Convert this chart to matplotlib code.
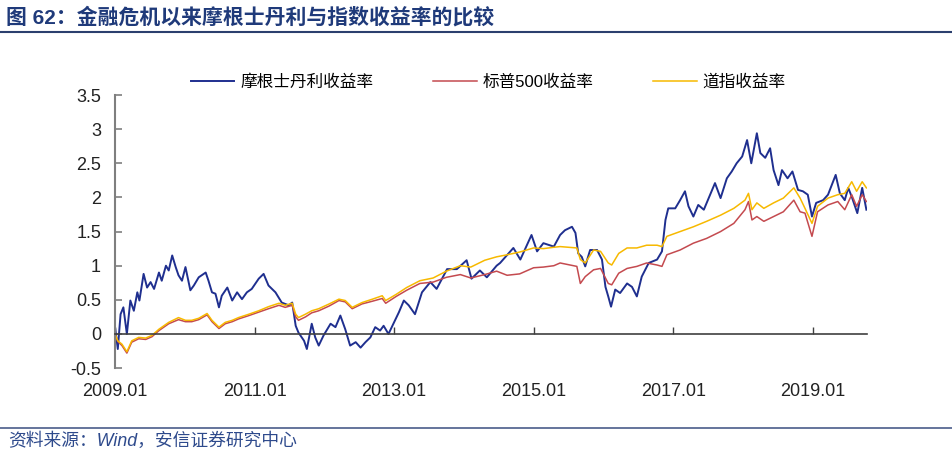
import matplotlib
matplotlib.use("Agg")
import matplotlib.pyplot as plt
from matplotlib.lines import Line2D

plt.rcParams['font.family'] = ['Liberation Sans', 'Noto Sans CJK SC', 'DejaVu Sans']

# Morgan Stanley cumulative return (decimal year, value)
ms_t = [2009.00, 2009.04, 2009.08, 2009.12, 2009.17, 2009.22, 2009.27, 2009.32, 2009.35, 2009.41,
        2009.46, 2009.51, 2009.56, 2009.63, 2009.67, 2009.73, 2009.77, 2009.82, 2009.87, 2009.91,
        2009.96, 2010.01, 2010.08, 2010.13, 2010.20, 2010.30, 2010.34, 2010.39, 2010.44, 2010.49,
        2010.53, 2010.61, 2010.68, 2010.75, 2010.82, 2010.89, 2010.96, 2011.06, 2011.13, 2011.20,
        2011.30, 2011.39, 2011.49, 2011.54, 2011.59, 2011.63, 2011.71, 2011.75, 2011.82, 2011.87,
        2011.92, 2011.99, 2012.09, 2012.16, 2012.23, 2012.30, 2012.37, 2012.45, 2012.52, 2012.59,
        2012.66, 2012.73, 2012.80, 2012.85, 2012.92, 2013.00, 2013.07, 2013.14, 2013.21, 2013.30,
        2013.40, 2013.52, 2013.61, 2013.76, 2013.90, 2014.04, 2014.11, 2014.23, 2014.33, 2014.47,
        2014.52, 2014.71, 2014.81, 2014.97, 2015.05, 2015.14, 2015.29, 2015.38, 2015.45, 2015.55,
        2015.60, 2015.64, 2015.69, 2015.74, 2015.81, 2015.91, 2015.98, 2016.03, 2016.07, 2016.11,
        2016.17, 2016.24, 2016.34, 2016.41, 2016.48, 2016.55, 2016.65, 2016.77, 2016.84, 2016.89,
        2016.93, 2017.03, 2017.10, 2017.17, 2017.22, 2017.29, 2017.36, 2017.44, 2017.51, 2017.60,
        2017.68, 2017.77, 2017.84, 2017.91, 2017.99, 2018.06, 2018.12, 2018.20, 2018.25, 2018.32,
        2018.39, 2018.44, 2018.51, 2018.56, 2018.64, 2018.71, 2018.79, 2018.86, 2018.93, 2018.99,
        2019.05, 2019.15, 2019.22, 2019.33, 2019.39, 2019.46, 2019.51, 2019.56, 2019.64, 2019.71,
        2019.77]
ms_v = [0.10, -0.22, 0.29, 0.39, 0.00, 0.49, 0.34, 0.61, 0.49, 0.88,
        0.68, 0.76, 0.66, 0.90, 0.78, 1.00, 0.93, 1.15, 0.98, 0.86,
        0.78, 0.98, 0.64, 0.71, 0.83, 0.90, 0.78, 0.61, 0.59, 0.39,
        0.56, 0.68, 0.49, 0.61, 0.51, 0.61, 0.66, 0.81, 0.88, 0.71,
        0.61, 0.46, 0.42, 0.46, 0.12, 0.02, -0.10, -0.22, 0.15, -0.05,
        -0.17, -0.02, 0.15, 0.10, 0.27, 0.07, -0.17, -0.12, -0.20, -0.12,
        -0.05, 0.10, 0.05, 0.12, 0.00, 0.17, 0.32, 0.49, 0.42, 0.29,
        0.61, 0.76, 0.66, 0.95, 0.95, 1.08, 0.81, 0.93, 0.83, 1.00,
        1.04, 1.26, 1.09, 1.45, 1.21, 1.33, 1.28, 1.45, 1.52, 1.57,
        1.48, 1.18, 1.13, 0.99, 1.23, 1.23, 1.09, 0.69, 0.55, 0.40,
        0.65, 0.60, 0.74, 0.69, 0.55, 0.84, 1.04, 1.09, 1.21, 1.67,
        1.84, 1.84, 1.96, 2.09, 1.87, 1.72, 1.89, 1.82, 1.99, 2.21,
        1.99, 2.28, 2.38, 2.50, 2.60, 2.84, 2.50, 2.94, 2.65, 2.58,
        2.72, 2.40, 2.18, 2.40, 2.28, 2.38, 2.11, 2.09, 2.04, 1.72,
        1.92, 1.96, 2.04, 2.33, 2.06, 1.96, 2.14, 2.01, 1.77, 2.14,
        1.82]

# S&P 500 and Dow cumulative returns
idx_t = [2009.00, 2009.04, 2009.10, 2009.17, 2009.24, 2009.34, 2009.44, 2009.53, 2009.63, 2009.77,
         2009.91, 2010.01, 2010.10, 2010.20, 2010.32, 2010.39, 2010.49, 2010.58, 2010.68, 2010.77,
         2010.92, 2011.06, 2011.20, 2011.35, 2011.44, 2011.54, 2011.59, 2011.63, 2011.73, 2011.82,
         2011.92, 2012.07, 2012.21, 2012.30, 2012.40, 2012.54, 2012.69, 2012.83, 2012.88, 2013.03,
         2013.18, 2013.37, 2013.56, 2013.75, 2013.95, 2014.10, 2014.30, 2014.47, 2014.62, 2014.80,
         2015.00, 2015.14, 2015.29, 2015.38, 2015.62, 2015.67, 2015.74, 2015.86, 2015.96, 2016.07,
         2016.12, 2016.22, 2016.34, 2016.48, 2016.62, 2016.77, 2016.84, 2016.91, 2017.10, 2017.29,
         2017.48, 2017.68, 2017.87, 2018.03, 2018.08, 2018.13, 2018.20, 2018.30, 2018.44, 2018.58,
         2018.73, 2018.82, 2018.89, 2018.99, 2019.07, 2019.22, 2019.36, 2019.46, 2019.56, 2019.63,
         2019.71, 2019.77]
dji_v = [0.00, -0.10, -0.15, -0.26, -0.10, -0.05, -0.06, -0.02, 0.07, 0.17,
         0.24, 0.20, 0.20, 0.23, 0.30, 0.20, 0.10, 0.17, 0.20, 0.24,
         0.29, 0.34, 0.40, 0.45, 0.42, 0.45, 0.29, 0.24, 0.29, 0.34,
         0.37, 0.44, 0.51, 0.49, 0.39, 0.46, 0.51, 0.56, 0.49, 0.58,
         0.68, 0.78, 0.82, 0.92, 1.00, 0.98, 1.08, 1.13, 1.16, 1.20,
         1.26, 1.25, 1.27, 1.28, 1.26, 1.09, 1.04, 1.23, 1.21, 1.04,
         1.01, 1.18, 1.26, 1.26, 1.30, 1.30, 1.28, 1.43, 1.50, 1.57,
         1.65, 1.74, 1.84, 1.96, 2.06, 1.82, 1.92, 1.84, 1.92, 1.99,
         2.14, 1.99, 1.84, 1.62, 1.87, 1.99, 2.04, 2.06, 2.23, 2.09,
         2.23, 2.14]
spx_v = [0.00, -0.11, -0.17, -0.28, -0.12, -0.07, -0.08, -0.04, 0.05, 0.15,
         0.21, 0.18, 0.18, 0.21, 0.28, 0.18, 0.08, 0.15, 0.18, 0.22,
         0.27, 0.32, 0.37, 0.42, 0.39, 0.42, 0.25, 0.20, 0.25, 0.31,
         0.34, 0.41, 0.49, 0.47, 0.37, 0.44, 0.48, 0.52, 0.45, 0.55,
         0.64, 0.74, 0.76, 0.83, 0.87, 0.82, 0.87, 0.92, 0.86, 0.88,
         0.97, 0.98, 1.00, 1.04, 0.99, 0.74, 0.84, 0.94, 0.96, 0.74,
         0.72, 0.89, 0.96, 0.99, 1.04, 1.01, 0.99, 1.16, 1.23, 1.33,
         1.40, 1.50, 1.62, 1.82, 1.94, 1.67, 1.72, 1.65, 1.72, 1.79,
         1.96, 1.79, 1.77, 1.43, 1.79, 1.89, 1.94, 1.82, 2.04, 1.87,
         2.04, 1.94]

labels = ['摩根士丹利收益率', '标普500收益率', '道指收益率']
xtick_pos = [2009, 2011, 2013, 2015, 2017, 2019]
xtick_labels = ['2009.01', '2011.01', '2013.01', '2015.01', '2017.01', '2019.01']
yticks = [-0.5, 0, 0.5, 1, 1.5, 2, 2.5, 3, 3.5]

fig = plt.figure(figsize=(9.52, 4.59), dpi=100)
ax = fig.add_axes([0.1208, 0.198, 0.79, 0.595])

ax.plot(ms_t, ms_v, color='#1f2f8f', lw=1.4, label=labels[0])
ax.plot(idx_t, spx_v, color='#c44a4f', lw=1.1, label=labels[1])
ax.plot(idx_t, dji_v, color='#f7b900', lw=1.1, label=labels[2])

ax.set_xlim(2009.0, 2019.78)
ax.set_ylim(-0.5, 3.5)
ax.set_yticks(yticks)
ax.set_yticklabels(['%g' % v for v in yticks])
ax.set_xticks(xtick_pos)
ax.set_xticklabels(xtick_labels)

for s in ['top', 'right']:
    ax.spines[s].set_visible(False)
ax.spines['left'].set_color('#7f7f7f')
ax.spines['left'].set_linewidth(1.5)
ax.spines['bottom'].set_position(('data', 0))
ax.spines['bottom'].set_color('#404040')
ax.spines['bottom'].set_linewidth(1.2)

ax.tick_params(axis='y', direction='in', length=5, width=1.2, color='#7f7f7f',
               labelsize=13, labelcolor='#222222', pad=10)
ax.tick_params(axis='x', direction='in', length=5, width=1.0, color='#404040',
               labelsize=13, labelcolor='#222222', pad=35)

ax.legend(loc='center', bbox_to_anchor=(0.513, 0.821), bbox_transform=fig.transFigure,
          ncol=3, frameon=False, handlelength=2.6, handletextpad=0.35,
          columnspacing=3.6, prop={'family': ['Liberation Sans', 'Noto Sans CJK SC'], 'size': 12})

fig.text(0.006, 0.962, '图 62：金融危机以来摩根士丹利与指数收益率的比较', fontsize=15,
         fontweight='bold', color='#1f3a7a', va='center', ha='left')
fig.add_artist(Line2D([0, 1], [0.930, 0.930], transform=fig.transFigure,
                      color='#2b3f6e', lw=1.5))
fig.add_artist(Line2D([0, 1], [0.0675, 0.0675], transform=fig.transFigure,
                      color='#4a5c8a', lw=1.2))
fig.text(0.008, 0.038, '资料来源：Wind，安信证券研究中心', fontsize=12.8, style='italic',
         color='#2e4a8c', va='center', ha='left')

fig.savefig('out.png', dpi=100, facecolor='white')
